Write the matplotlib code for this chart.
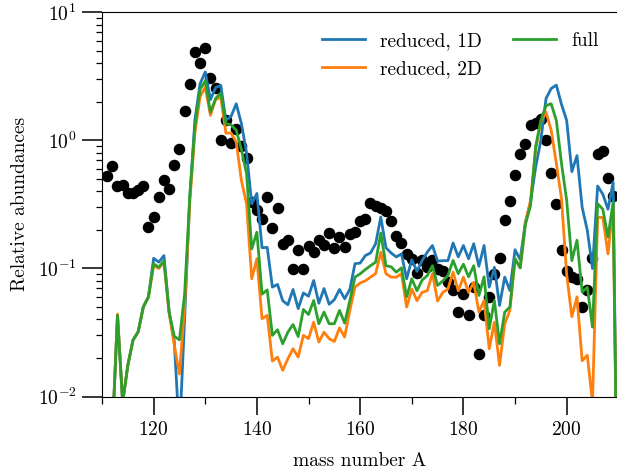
import numpy as np
import matplotlib
matplotlib.use("Agg")
import matplotlib.pyplot as plt
from matplotlib.ticker import MultipleLocator

plt.rcParams['font.family'] = 'serif'
plt.rcParams['font.serif'] = ['cmr10']
plt.rcParams['mathtext.fontset'] = 'cm'
plt.rcParams['axes.formatter.use_mathtext'] = True
plt.rcParams['font.size'] = 14

# mass numbers for the network curves
A_lines = np.arange(110, 211)

reduced_1d = [1e-5, 1e-5, 0.005, 0.043, 0.009, 0.0175, 0.0275, 0.032, 0.05, 0.06,
              0.12, 0.112, 0.126, 0.046, 0.027, 0.005, 0.04, 0.36, 1.45, 2.77,
              3.42, 2.08, 2.58, 2.69, 1.43, 1.54, 1.93, 1.35, 0.80, 0.32,
              0.385, 0.145, 0.146, 0.0715, 0.075, 0.056, 0.052, 0.0685, 0.0486, 0.0643,
              0.0607, 0.0805, 0.0535, 0.0696, 0.0525, 0.057, 0.0685, 0.058, 0.0685, 0.109,
              0.110, 0.126, 0.132, 0.156, 0.252, 0.145, 0.132, 0.123, 0.13, 0.083,
              0.117, 0.095, 0.115, 0.134, 0.151, 0.114, 0.115, 0.115, 0.158, 0.123,
              0.151, 0.119, 0.156, 0.104, 0.151, 0.0715, 0.102, 0.0514, 0.0855, 0.0673,
              0.14, 0.117, 0.23, 0.33, 0.62, 1.0, 2.12, 2.54, 2.7, 1.91,
              1.43, 0.57, 0.76, 0.30, 0.198, 0.10, 0.44, 0.38, 0.29, 0.47,
              3e-4]

reduced_2d = [1e-5, 1e-5, 0.005, 0.044, 0.009, 0.0175, 0.0275, 0.032, 0.05, 0.06,
              0.105, 0.10, 0.112, 0.045, 0.025, 0.015, 0.05, 0.33, 1.15, 2.2,
              2.6, 1.57, 2.08, 2.18, 1.14, 1.14, 0.97, 0.487, 0.32, 0.083,
              0.119, 0.0405, 0.043, 0.0189, 0.0203, 0.016, 0.0197, 0.0236, 0.0203, 0.030,
              0.0283, 0.038, 0.0266, 0.0318, 0.0283, 0.0269, 0.0343, 0.0291, 0.047, 0.0715,
              0.077, 0.08, 0.0855, 0.091, 0.134, 0.091, 0.0855, 0.0855, 0.091, 0.050,
              0.069, 0.056, 0.065, 0.067, 0.091, 0.0556, 0.065, 0.069, 0.0935, 0.067,
              0.0855, 0.065, 0.078, 0.0456, 0.056, 0.0236, 0.038, 0.0175, 0.037, 0.047,
              0.119, 0.101, 0.225, 0.34, 0.85, 1.4, 1.66, 1.2, 0.66, 0.35,
              0.09, 0.042, 0.06, 0.019, 0.021, 0.009, 0.25, 0.25, 0.13, 0.31,
              3e-4]

full = [1e-5, 1e-5, 0.005, 0.043, 0.009, 0.0175, 0.0275, 0.032, 0.05, 0.06,
        0.109, 0.102, 0.115, 0.0456, 0.0295, 0.0277, 0.063, 0.36, 1.3, 2.5,
        2.91, 1.66, 2.12, 2.35, 1.35, 1.32, 1.2, 0.85, 0.55, 0.142,
        0.192, 0.063, 0.068, 0.030, 0.0332, 0.0258, 0.0318, 0.0365, 0.0294, 0.0478,
        0.0437, 0.0562, 0.037, 0.0456, 0.037, 0.037, 0.047, 0.0374, 0.056, 0.0855,
        0.0908, 0.098, 0.105, 0.112, 0.189, 0.105, 0.103, 0.0935, 0.101, 0.060,
        0.083, 0.067, 0.081, 0.088, 0.105, 0.0736, 0.080, 0.088, 0.1155, 0.091,
        0.108, 0.086, 0.105, 0.0615, 0.086, 0.0338, 0.0562, 0.0258, 0.0456, 0.050,
        0.119, 0.101, 0.22, 0.31, 0.9, 1.43, 1.87, 1.93, 1.43, 0.66,
        0.34, 0.115, 0.166, 0.0653, 0.0714, 0.0348, 0.32, 0.29, 0.176, 0.33,
        3e-4]

# observed (solar) abundances
A_obs = np.arange(111, 210)
obs = [0.53, 0.63, 0.44, 0.45, 0.39, 0.39, 0.41, 0.44, 0.21,
       0.25, 0.36, 0.49, 0.42, 0.64, 0.86, 1.70, 2.74, 4.9, 4.0,
       5.3, 3.07, 2.58, 1.01, 1.45, 0.96, 1.22, 0.91, 0.73, 0.33,
       0.284, 0.244, 0.36, 0.208, 0.298, 0.156, 0.168, 0.099, 0.140, 0.099,
       0.151, 0.134, 0.168, 0.153, 0.189, 0.144, 0.176, 0.146, 0.187, 0.192,
       0.234, 0.244, 0.324, 0.31, 0.294, 0.28, 0.235, 0.178, 0.157, 0.13,
       0.119, 0.092, 0.116, 0.102, 0.117, 0.099, 0.096, 0.078, 0.068, 0.046,
       0.063, 0.043, 0.071, 0.0216, 0.043, 0.06, 0.090, 0.12, 0.237, 0.336,
       0.54, 0.78, 0.94, 1.31, 1.36, 1.48, 1.0, 0.56, 0.316, 0.14,
       0.095, 0.085, 0.082, 0.050, 0.068, 0.12, 0.78, 0.82, 0.51, 0.365]

fig = plt.figure(figsize=(6.17, 4.74), dpi=100)
ax = fig.add_axes([102 / 617, 77.5 / 474, 516.3 / 617, 384.2 / 474])

ax.plot(A_obs, obs, 'o', color='black', ms=7.3, zorder=1)
ax.plot(A_lines, reduced_1d, color='#1f77b4', lw=2, label='reduced, 1D')
ax.plot(A_lines, reduced_2d, color='#ff7f0e', lw=2, label='reduced, 2D')
ax.plot(A_lines, full, color='#2ca02c', lw=2, label='full')

ax.set_yscale('log')
ax.set_ylim(1e-2, 1e1)
ax.set_xlim(110, 210)
ax.xaxis.set_major_locator(MultipleLocator(20))
ax.xaxis.set_minor_locator(MultipleLocator(10))
ax.spines['right'].set_visible(False)

ax.tick_params(axis='x', which='major', length=12.7, width=1.1, pad=5)
ax.tick_params(axis='x', which='minor', length=4.8, width=0.9)
ax.tick_params(axis='y', which='major', length=14.4, width=1.1, pad=4)
ax.tick_params(axis='y', which='minor', length=4.3, width=0.9)

ax.set_xlabel('mass number A', labelpad=9)
ax.set_ylabel('Relative abundances', labelpad=6)

ax.legend(loc='upper right', ncol=2, frameon=False, handlelength=2.2,
          columnspacing=1.6, handletextpad=0.8, labelspacing=0.55,
          borderaxespad=0.6)

fig.savefig('out.png', dpi=100)
